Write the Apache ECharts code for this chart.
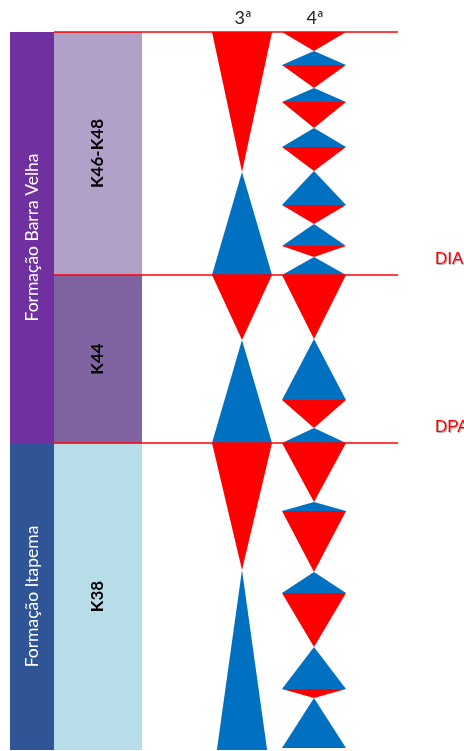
<!DOCTYPE html>
<html>
<head>
<meta charset="utf-8">
<script src="https://cdn.jsdelivr.net/npm/echarts@6/dist/echarts.min.js"></script>
<style>html,body{margin:0;padding:0;background:#fff}#c{width:464px;height:751px}</style>
</head>
<body>
<div id="c"></div>
<script>
// ---- data (depth units, increasing downward) ----
const formationNames = ['Formação Barra Velha', 'Formação Itapema'];
const formationBounds = [0, 411, 718];
const unitNames = ['K46-K48', 'K44', 'K38'];
const unitBounds = [0, 243, 411, 718];
const surfaceNames = ['', 'DIA', 'DPA'];
const surfaceDepths = [0, 243, 411];
const orderLabels = ['3ª', '4ª'];
// alternating sequence breaks, starting with a red (narrowing downward) triangle
const thirdOrderBreaks = [0, 140, 243, 308, 411, 538, 753];
const fourthOrderBreaks = [0, 19, 33, 56, 70, 96, 115, 139, 173, 192, 214, 225, 243, 307, 368, 396, 411, 470, 479, 540, 561, 615, 657, 666, 716];

// ---- layout / style ----
const formationColors = ['#7030A0', '#2F5597'];
const unitColors = ['#B1A0C7', '#8064A2', '#B7DEE8'];
const RED = '#FF0000', BLUE = '#0070C0';
const COL = { fmL: 10, fmR: 54, unL: 54, unR: 142, o3: 242, o3w: 30, o4: 314, o4w: 32, lineL: 54, lineR: 398, lab: 435 };

function toBlocks(names, bounds) {
  return names.map((n, i) => [bounds[i], bounds[i + 1], i]);
}
function toTriangles(breaks) {
  const out = [];
  for (let i = 0; i < breaks.length - 1; i++) out.push([breaks[i], breaks[i + 1], i % 2]);
  return out;
}

function blockSeries(names, bounds, colors, xl, xr, textStyle) {
  return {
    type: 'custom', clip: false,
    data: toBlocks(names, bounds),
    renderItem: function (params, api) {
      const t = api.value(0), b = api.value(1), i = api.value(2);
      const p1 = api.coord([xl, t]), p2 = api.coord([xr, b]);
      return {
        type: 'group',
        children: [
          { type: 'rect', shape: { x: p1[0], y: p1[1], width: p2[0] - p1[0], height: p2[1] - p1[1] }, style: { fill: colors[i] } },
          { type: 'text', x: (p1[0] + p2[0]) / 2, y: (p1[1] + p2[1]) / 2, rotation: Math.PI / 2,
            style: Object.assign({ text: names[i], align: 'center', verticalAlign: 'middle' }, textStyle) }
        ]
      };
    }
  };
}

function triSeries(breaks, cx, hw) {
  return {
    type: 'custom', clip: true,
    data: toTriangles(breaks),
    renderItem: function (params, api) {
      const t = api.value(0), b = api.value(1), kind = api.value(2);
      const L = api.coord([cx - hw, t]), R = api.coord([cx + hw, b]), C = api.coord([cx, t]);
      const yt = L[1], yb = R[1];
      let pts;
      if (kind === 0) pts = [[L[0], yt], [R[0], yt], [C[0], yb]];
      else pts = [[C[0], yt], [R[0], yb], [L[0], yb]];
      return { type: 'polygon', shape: { points: pts }, style: { fill: kind === 0 ? RED : BLUE } };
    }
  };
}

const chart = echarts.init(document.getElementById('c'), null, { renderer: 'canvas' });
chart.setOption({
  animation: false,
  grid: { left: 0, right: 0, top: 32, bottom: 1 },
  xAxis: { type: 'value', min: 0, max: 464, show: false },
  yAxis: { type: 'value', min: 0, max: 718, inverse: true, show: false },
  series: [
    blockSeries(formationNames, formationBounds, formationColors, COL.fmL, COL.fmR,
      { fill: '#fff', fontSize: 17.5, fontFamily: 'Lato' }),
    blockSeries(unitNames, unitBounds, unitColors, COL.unL, COL.unR,
      { fill: '#000', fontSize: 17, fontWeight: 'bold', fontFamily: 'Lato' }),
    triSeries(thirdOrderBreaks, COL.o3, COL.o3w),
    triSeries(fourthOrderBreaks, COL.o4, COL.o4w),
    {
      type: 'custom', clip: false,
      data: surfaceDepths.map((d, i) => [d, i]),
      renderItem: function (params, api) {
        const d = api.value(0), i = api.value(1);
        const a = api.coord([COL.lineL, d]), b = api.coord([COL.lineR, d]);
        const ch = [{ type: 'line', shape: { x1: a[0], y1: a[1], x2: b[0], y2: b[1] }, style: { stroke: RED, lineWidth: 1.5 } }];
        if (surfaceNames[i]) {
          ch.push({ type: 'text', x: api.coord([COL.lab, d])[0], y: a[1] - 7,
            style: { text: surfaceNames[i], fill: RED, fontSize: 17, fontFamily: 'Liberation Sans', align: 'left', verticalAlign: 'bottom',
              textShadowColor: 'rgba(0,0,0,0.35)', textShadowOffsetX: 1, textShadowOffsetY: 1, textShadowBlur: 1 } });
        }
        return { type: 'group', children: ch };
      }
    },
    {
      type: 'custom', clip: false,
      data: orderLabels.map((l, i) => [i]),
      renderItem: function (params, api) {
        const i = api.value(0);
        const cx = i === 0 ? COL.o3 : COL.o4;
        const p = api.coord([cx + 1, 0]);
        return { type: 'text', x: p[0], y: p[1] - 14,
          style: { text: orderLabels[i], fill: '#222', fontSize: 18, fontFamily: 'Lato', align: 'center', verticalAlign: 'middle' } };
      }
    }
  ]
});
</script>
</body>
</html>
